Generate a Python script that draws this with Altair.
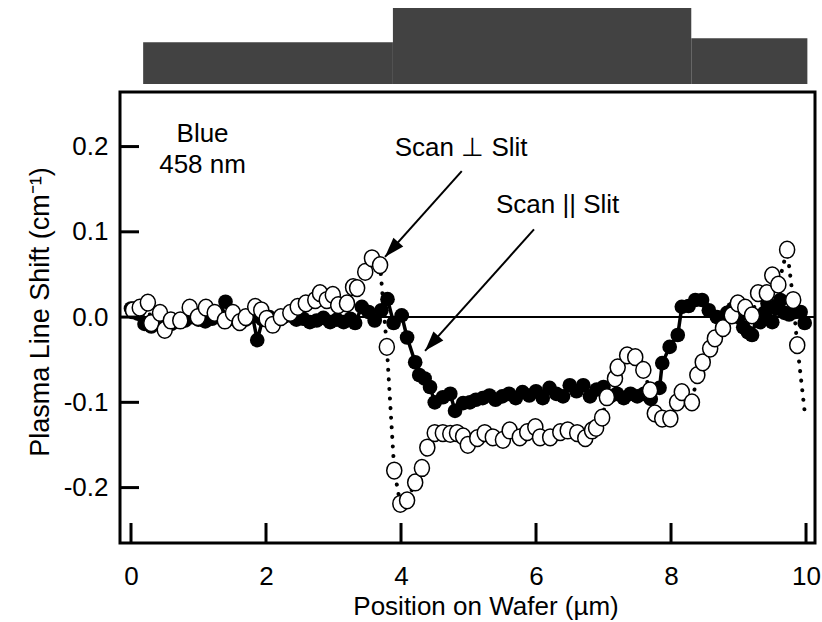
import altair as alt
import pandas as pd

# ---------------- data ----------------
# Scan || Slit (filled circles, solid line)
par_x = [0.00, 0.10, 0.20, 0.30, 0.40, 0.50, 0.60, 0.70, 0.80, 0.90,
         1.00, 1.10, 1.20, 1.30, 1.40, 1.50, 1.60, 1.70, 1.80, 1.87,
         1.95, 2.05, 2.15, 2.25, 2.35, 2.45, 2.55, 2.65, 2.75, 2.85,
         2.95, 3.05, 3.15, 3.25, 3.32, 3.42, 3.52, 3.61, 3.71, 3.80,
         3.89, 4.01, 4.09, 4.21, 4.27, 4.35, 4.43, 4.50, 4.62, 4.73,
         4.80, 4.92, 5.02, 5.11, 5.21, 5.31, 5.40, 5.50, 5.60, 5.70,
         5.80, 5.90, 6.00, 6.10, 6.20, 6.30, 6.40, 6.50, 6.60, 6.70,
         6.80, 6.90, 7.00, 7.10, 7.20, 7.30, 7.40, 7.50, 7.60, 7.70,
         7.83, 7.87, 7.98, 8.10, 8.16, 8.26, 8.36, 8.46, 8.56, 8.68,
         8.76, 8.83, 8.92, 9.00, 9.07, 9.14, 9.20, 9.27, 9.32, 9.38,
         9.43, 9.50, 9.56, 9.62, 9.68, 9.75, 9.84, 9.92, 9.98]
par_y = [0.010, 0.004, -0.008, -0.011, -0.006, -0.003, -0.008, -0.005, -0.004, 0.000,
         -0.003, -0.005, -0.002, 0.004, 0.018, -0.002, -0.006, -0.003, 0.001, -0.027,
         -0.003, 0.000, -0.004, 0.000, 0.002, -0.003, -0.002, -0.006, -0.004, -0.001,
         -0.006, -0.003, -0.006, -0.002, -0.007, 0.012, 0.006, -0.004, 0.008, 0.021,
         -0.007, 0.002, -0.024, -0.053, -0.068, -0.072, -0.082, -0.100, -0.094, -0.090,
         -0.110, -0.101, -0.100, -0.097, -0.095, -0.092, -0.097, -0.093, -0.090, -0.095,
         -0.088, -0.092, -0.087, -0.095, -0.083, -0.090, -0.093, -0.080, -0.087, -0.080,
         -0.093, -0.085, -0.082, -0.093, -0.090, -0.095, -0.090, -0.093, -0.090, -0.096,
         -0.083, -0.054, -0.035, -0.021, 0.012, 0.013, 0.020, 0.020, 0.008, 0.000,
         -0.003, 0.005, 0.010, 0.000, -0.012, -0.018, -0.021, 0.000, -0.006, 0.005,
         0.016, -0.006, 0.010, 0.020, 0.005, 0.003, 0.006, 0.006, -0.007]

# Scan ⊥ Slit (open circles, dotted line)
perp_x = [0.03, 0.13, 0.25, 0.30, 0.43, 0.50, 0.59, 0.73, 0.87, 0.99,
          1.11, 1.24, 1.39, 1.51, 1.61, 1.70, 1.84, 1.93, 2.01, 2.10,
          2.22, 2.36, 2.47, 2.59, 2.73, 2.80, 2.90, 2.99, 3.07, 3.20,
          3.29, 3.35, 3.47, 3.57, 3.69, 3.79, 3.90, 3.99, 4.09, 4.21,
          4.31, 4.39, 4.50, 4.62, 4.73, 4.83, 4.92, 4.99, 5.13, 5.24,
          5.36, 5.51, 5.61, 5.76, 5.87, 5.99, 6.06, 6.21, 6.36, 6.47,
          6.61, 6.73, 6.83, 6.89, 6.98, 7.05, 7.17, 7.21, 7.35, 7.47,
          7.59, 7.69, 7.76, 7.87, 7.99, 8.09, 8.16, 8.31, 8.39, 8.47,
          8.58, 8.65, 8.77, 8.90, 8.99, 9.10, 9.20, 9.29, 9.42, 9.50,
          9.59, 9.72, 9.81, 9.87, 9.99]
perp_y = [0.008, 0.011, 0.017, -0.007, 0.005, -0.015, -0.004, -0.004, 0.011, 0.000,
          0.011, 0.005, -0.004, 0.005, -0.006, 0.000, 0.012, 0.008, -0.002, -0.009,
          0.000, 0.005, 0.012, 0.016, 0.020, 0.028, 0.020, 0.026, 0.014, 0.016,
          0.035, 0.034, 0.053, 0.069, 0.061, -0.035, -0.180, -0.219, -0.215, -0.194,
          -0.177, -0.153, -0.136, -0.136, -0.137, -0.136, -0.140, -0.150, -0.142, -0.136,
          -0.141, -0.144, -0.133, -0.141, -0.135, -0.129, -0.141, -0.141, -0.135, -0.133,
          -0.136, -0.142, -0.133, -0.130, -0.118, -0.094, -0.072, -0.059, -0.045, -0.047,
          -0.062, -0.086, -0.113, -0.119, -0.119, -0.100, -0.088, -0.100, -0.068, -0.053,
          -0.037, -0.025, -0.013, 0.002, 0.016, 0.011, 0.002, 0.028, 0.028, 0.049,
          0.038, 0.079, 0.020, -0.033, -0.118]
# last point of the dotted trace carries no marker
perp_marker = [True] * (len(perp_x) - 1) + [False]

x_tick_values = [0, 2, 4, 6, 8, 10]
y_tick_values = [-0.2, -0.1, 0.0, 0.1, 0.2]

# wafer profile drawn above the plot (position in µm, height in plot units)
wafer_x0 = [0.18, 3.88, 8.30]
wafer_x1 = [3.88, 8.30, 10.02]
wafer_top = [0.3225, 0.3624, 0.327]
wafer_bottom = [0.2735, 0.2735, 0.2735]

labels_text = ["Blue", "458 nm", "Scan \u22a5 Slit", "Scan || Slit"]
labels_x = [1.06, 1.06, 4.89, 6.32]
labels_y = [0.2055, 0.169, 0.1887, 0.1222]

arrow_x_start = [4.90, 5.97]
arrow_y_start = [0.1711, 0.1028]
arrow_x_tip = [3.763, 4.356]
arrow_y_tip = [0.0706, -0.0396]

# ---------------- tables ----------------
par_df = pd.DataFrame({"x": par_x, "y": par_y})
perp_df = pd.DataFrame({"x": perp_x, "y": perp_y, "m": perp_marker})
wafer_df = pd.DataFrame({"x0": wafer_x0, "x1": wafer_x1, "t": wafer_top, "b": wafer_bottom})
lab_df = pd.DataFrame({"t": labels_text, "x": labels_x, "y": labels_y})
arr_df = pd.DataFrame({"x": arrow_x_start, "y": arrow_y_start,
                       "x2": arrow_x_tip, "y2": arrow_y_tip})
xt_df = pd.DataFrame({"v": x_tick_values})
yt_df = pd.DataFrame({"v": y_tick_values})
zero_df = pd.DataFrame({"v": [0.0]})

FONT = "Liberation Sans"
FS = 26
W, H = 695, 451
xscale = alt.Scale(domain=[-0.163, 10.133], nice=False, zero=False)
yscale = alt.Scale(domain=[-0.265, 0.264], nice=False, zero=False)

xaxis = alt.Axis(values=x_tick_values, format="d", ticks=False, domain=False, grid=False,
                 labelFontSize=FS, labelFont=FONT, labelPadding=20, labelColor="black",
                 title="Position on Wafer (µm)", titleFontSize=FS, titleFont=FONT,
                 titleFontWeight="normal", titleColor="black", titlePadding=4,
                 titleX=W / 2 + 18)
yaxis = alt.Axis(values=y_tick_values, ticks=False, domain=False, grid=False,
                 labelExpr="replace(format(datum.value, '.1f'), '\u2212', '-')",
                 labelFontSize=FS, labelFont=FONT, labelPadding=12, labelColor="black",
                 title="Plasma Line Shift (cm\u207b\u00b9)", titleFontSize=27, titleFont=FONT,
                 titleFontWeight="normal", titleColor="black", titlePadding=9,
                 titleY=H / 2 - 6)


def X(f):
    return alt.X(f, type="quantitative", scale=xscale, axis=xaxis)


def Y(f):
    return alt.Y(f, type="quantitative", scale=yscale, axis=yaxis)


wafer = alt.Chart(wafer_df).mark_rect(color="#424242", clip=False).encode(
    x=X("x0"), x2="x1", y=Y("b"), y2="t")

zero_line = alt.Chart(zero_df).mark_rule(color="black", strokeWidth=2).encode(y=Y("v"))

yticks = alt.Chart(yt_df).mark_rule(color="black", strokeWidth=3).encode(
    y=Y("v"), x=alt.value(0), x2=alt.value(19))
xticks = alt.Chart(xt_df).mark_rule(color="black", strokeWidth=3).encode(
    x=X("v"), y=alt.value(H), y2=alt.value(H - 20))

par_line = alt.Chart(par_df).mark_line(color="black", strokeWidth=3.5).encode(
    x=X("x"), y=Y("y"), order="x:Q")
par_pts = alt.Chart(par_df).mark_point(shape="circle", filled=True, color="black",
                                       size=215, opacity=1).encode(x=X("x"), y=Y("y"))

perp_line = alt.Chart(perp_df).mark_line(color="black", strokeWidth=4, strokeDash=[0.1, 9.5],
                                         strokeCap="round").encode(
    x=X("x"), y=Y("y"), order="x:Q")
ELLIPSE = ("M0,-1C0.497,-1,0.9,-0.552,0.9,0C0.9,0.552,0.497,1,0,1"
           "C-0.497,1,-0.9,0.552,-0.9,0C-0.9,-0.552,-0.497,-1,0,-1Z")
perp_pts = alt.Chart(perp_df).transform_filter("datum.m").mark_point(
    shape=ELLIPSE, filled=True, fill="white", stroke="black", strokeWidth=1.5,
    size=280, opacity=1).encode(x=X("x"), y=Y("y"))

texts = alt.Chart(lab_df).mark_text(font=FONT, fontSize=FS, align="center",
                                    baseline="alphabetic", color="black").encode(
    x=X("x"), y=Y("y"), text="t:N")

arrow_lines = alt.Chart(arr_df).mark_rule(color="black", strokeWidth=2).encode(
    x=X("x"), y=Y("y"), x2="x2", y2="y2")
HEAD = "M0,0L0.6,1.8L-0.6,1.8Z"
arrow_heads = alt.Chart(arr_df).mark_point(shape=HEAD, filled=True, color="black",
                                           size=490, opacity=1, angle=222).encode(
    x=X("x2"), y=Y("y2"))

chart = alt.layer(
    wafer, zero_line, par_line, par_pts, perp_line, perp_pts,
    yticks, xticks, texts, arrow_lines, arrow_heads
).properties(
    width=W, height=H,
    background="white",
    autosize=alt.AutoSizeParams(type="none"),
    padding={"left": 120, "top": 92, "right": 7, "bottom": 79},
).configure_view(
    stroke="black", strokeWidth=3
)

chart.save("out.html", embed_options={"renderer": "svg", "actions": False})
